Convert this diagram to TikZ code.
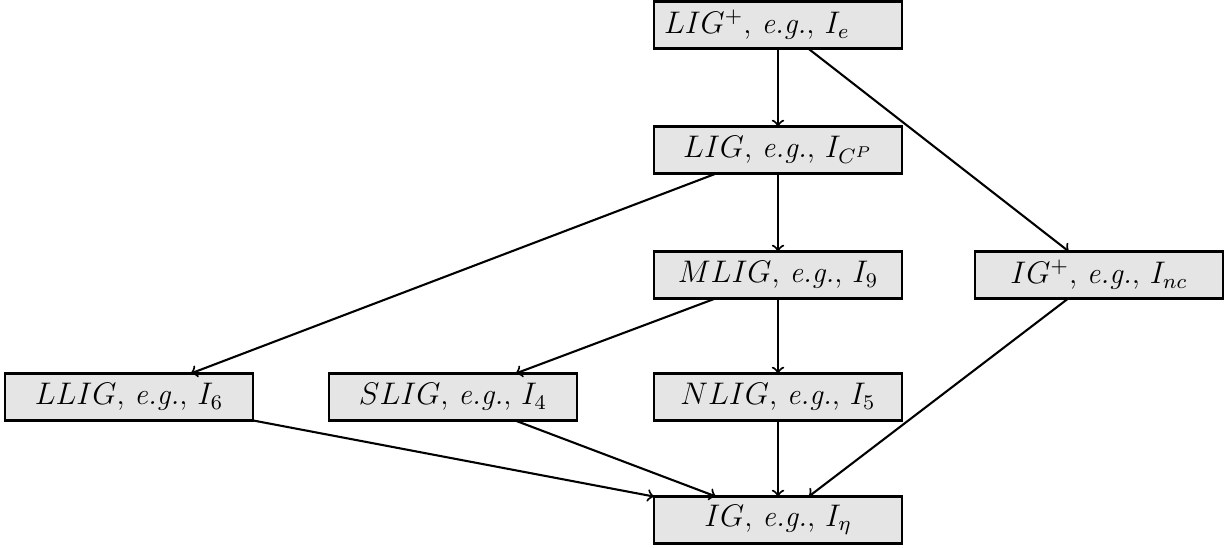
\documentclass[tikz,border=0pt]{standalone}
\usetikzlibrary{arrows}
\begin{document}
\begin{tikzpicture}[x=0.0135cm,y=-0.0135cm,
  box/.style={draw=black,thick,fill=gray!20,minimum width=248*0.0135cm,minimum height=47*0.0135cm,inner sep=0pt,outer sep=0pt,font=\fontsize{11.5}{13.5}\selectfont},
  conn/.style={->,thick}]
\useasboundingbox (0,0) rectangle (1228,548);
\node[box,text width=228*0.0135cm,align=left] (lp) at (778,25) {$LIG^{+}$, \textit{e.g.}, $I_{e}$};
\node[box] (lig) at (778,150) {$LIG$, \textit{e.g.}, $I_{C^P}$};
\node[box] (mlig) at (778,275) {$MLIG$, \textit{e.g.}, $I_{9}$};
\node[box] (igp) at (1099,275) {$IG^{+}$, \textit{e.g.}, $I_{nc}$};
\node[box] (llig) at (129,397) {$LLIG$, \textit{e.g.}, $I_{6}$};
\node[box] (slig) at (453,397) {$SLIG$, \textit{e.g.}, $I_{4}$};
\node[box] (nlig) at (778,397) {$NLIG$, \textit{e.g.}, $I_{5}$};
\node[box] (ig) at (778,520) {$IG$, \textit{e.g.}, $I_{\eta}$};
\draw[conn] (lp) -- (lig);
\draw[conn] (lp) -- (igp);
\draw[conn] (lig) -- (mlig);
\draw[conn] (lig) -- (llig);
\draw[conn] (mlig) -- (slig);
\draw[conn] (mlig) -- (nlig);
\draw[conn] (llig) -- (ig);
\draw[conn] (slig) -- (ig);
\draw[conn] (nlig) -- (ig);
\draw[conn] (igp) -- (ig);
\end{tikzpicture}
\end{document}
